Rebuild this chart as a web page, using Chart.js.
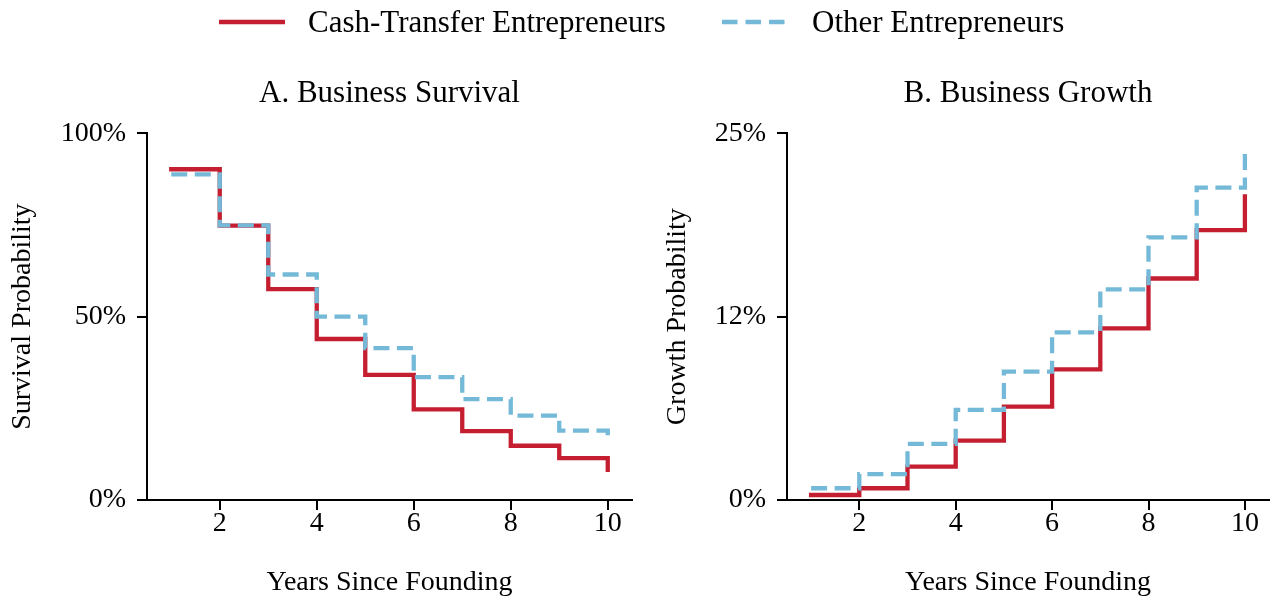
<!DOCTYPE html>
<html><head><meta charset="utf-8">
<script src="https://cdn.jsdelivr.net/npm/chart.js@4.4.1/dist/chart.umd.min.js"></script>
<style>
html,body{margin:0;padding:0;background:#fff;}
body{width:1276px;height:599px;position:relative;overflow:hidden;font-family:'Liberation Serif',serif;}
canvas{position:absolute;top:0;}
.item{position:absolute;top:4px;font-size:31px;line-height:36px;color:#000;white-space:nowrap;font-family:'Liberation Serif',serif;}
.key{position:absolute;top:12px;}
</style></head><body>
<canvas id="c1" width="640" height="599" style="left:0px"></canvas>
<canvas id="c2" width="636" height="599" style="left:640px"></canvas>
<div id="legend"></div>
<script>
// ---- data ----
const years = [1, 2, 3, 4, 5, 6, 7, 8, 9, 10];
const survivalCash  = [90.2, 74.8, 57.5, 43.9, 34.1, 24.7, 18.8, 14.8, 11.4, 8.2];
const survivalOther = [88.8, 74.9, 61.5, 50.0, 41.4, 33.5, 27.5, 23.0, 18.9, 16.5];
const growthCash    = [0.34, 0.80, 2.27, 4.05, 6.36, 8.91, 11.7, 15.1, 18.4, 20.7];
const growthOther   = [0.80, 1.77, 3.82, 6.14, 8.75, 11.43, 14.36, 17.9, 21.3, 23.75];
const xTicks = [2, 4, 6, 8, 10];
const survivalTicks = [0, 50, 100];
const survivalTickLabels = ['0%', '50%', '100%'];
const growthTicks = [0, 12.5, 25];
const growthTickLabels = ['0%', '12%', '25%'];
const seriesNames = ['Cash-Transfer Entrepreneurs', 'Other Entrepreneurs'];
const panelTitles = ['A. Business Survival', 'B. Business Growth'];
const yTitles = ['Survival Probability', 'Growth Probability'];
const xTitle = 'Years Since Founding';

const RED = '#C41E30';
const BLUE = '#74BAD8';
const FONT = "'Liberation Serif', 'Times New Roman', serif";

// ---- legend (HTML) ----
const leg = document.getElementById('legend');
leg.innerHTML =
  '<svg class="key" style="left:219px" width="68" height="20"><line x1="0" y1="10" x2="66" y2="10" stroke="' + RED + '" stroke-width="4.5"/></svg>' +
  '<span class="item" style="left:308px">' + seriesNames[0] + '</span>' +
  '<svg class="key" style="left:722px" width="66" height="20"><line x1="0" y1="10" x2="63" y2="10" stroke="' + BLUE + '" stroke-width="4.5" stroke-dasharray="15.5 8"/></svg>' +
  '<span class="item" style="left:812px">' + seriesNames[1] + '</span>';

function pts(arr) { return years.map((x, i) => ({x: x, y: arr[i]})); }

function makeChart(id, title, yTitle, cash, other, ymax, yt, ytl, padRight, yTitlePad) {
  return new Chart(document.getElementById(id), {
    type: 'line',
    data: {
      datasets: [
        {label: seriesNames[1], data: pts(other), borderColor: BLUE, borderWidth: 4.3,
         borderDash: [16, 7.5], stepped: 'before', pointRadius: 0, fill: false, order: 0,
         borderCapStyle: 'butt', borderJoinStyle: 'miter'},
        {label: seriesNames[0], data: pts(cash), borderColor: RED, borderWidth: 4.3,
         stepped: 'before', pointRadius: 0, fill: false, order: 1,
         borderCapStyle: 'square', borderJoinStyle: 'miter'}
      ]
    },
    options: {
      responsive: false, animation: false, events: [],
      layout: {padding: {left: 0, right: padRight, top: 0, bottom: 0}},
      plugins: {
        legend: {display: false}, tooltip: {enabled: false},
        title: {display: true, text: title, fullSize: false, color: '#000',
                font: {family: FONT, size: 31, weight: 'normal', lineHeight: 1},
                padding: {top: 78.6, bottom: 23.7}}
      },
      scales: {
        x: {
          type: 'linear', min: 0.5, max: 10.5,
          afterBuildTicks: s => { s.ticks = xTicks.map(v => ({value: v})); },
          afterFit: s => { s.height = 99; },
          ticks: {color: '#000', font: {family: FONT, size: 28, lineHeight: 1}, padding: 0,
                  maxRotation: 0, autoSkip: false, callback: v => String(v)},
          grid: {display: true, drawOnChartArea: false, drawTicks: true, tickLength: 10,
                 color: '#000', lineWidth: 2, tickWidth: 2},
          border: {display: true, color: '#000', width: 2},
          title: {display: true, text: xTitle, color: '#000',
                  font: {family: FONT, size: 28, lineHeight: 1}, padding: {top: 0, bottom: 2.3}}
        },
        y: {
          type: 'linear', min: 0, max: ymax,
          afterBuildTicks: s => { s.ticks = yt.map(v => ({value: v})); },
          afterFit: s => { s.width = 147; },
          ticks: {color: '#000', font: {family: FONT, size: 28, lineHeight: 1}, padding: 11,
                  autoSkip: false, callback: (v, i) => ytl[i]},
          grid: {display: true, drawOnChartArea: false, drawTicks: true, tickLength: 10,
                 color: '#000', lineWidth: 2, tickWidth: 2},
          border: {display: true, color: '#000', width: 2},
          title: {display: true, text: yTitle, color: '#000',
                  font: {family: FONT, size: 28, lineHeight: 1}, padding: {top: yTitlePad, bottom: 0}}
        }
      }
    }
  });
}

makeChart('c1', panelTitles[0], yTitles[0], survivalCash, survivalOther, 100,
          survivalTicks, survivalTickLabels, 8, 9);
makeChart('c2', panelTitles[1], yTitles[1], growthCash, growthOther, 25,
          growthTicks, growthTickLabels, 7, 24);
</script>
</body></html>
